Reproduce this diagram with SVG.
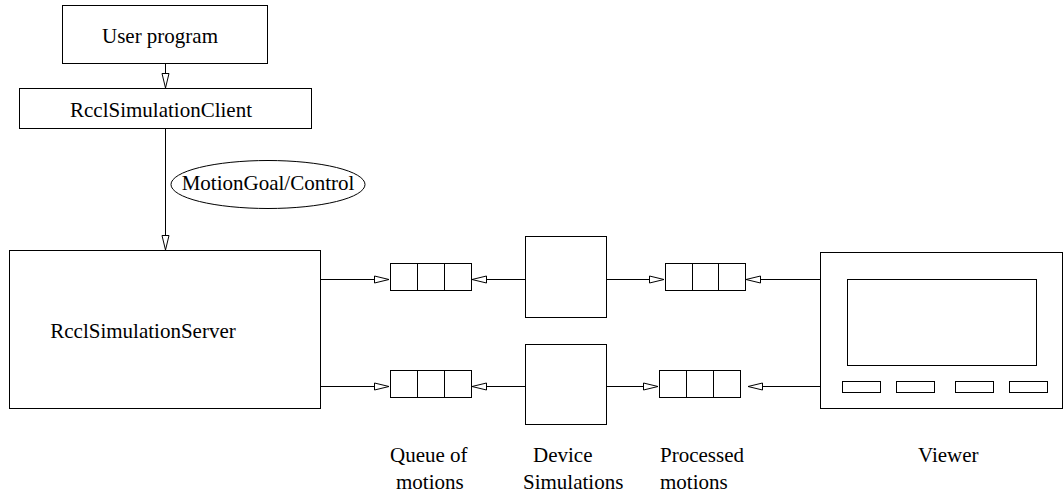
<svg xmlns="http://www.w3.org/2000/svg" width="1064" height="493" viewBox="0 0 1064 493">
<style>
.b{fill:#fff;stroke:#000;stroke-width:1}
.l{fill:none;stroke:#000;stroke-width:1}
.t{font-family:'Liberation Serif','DejaVu Serif','Times New Roman',serif;font-size:21px;fill:#000}
</style>
<defs>
<marker id="ah" markerUnits="userSpaceOnUse" markerWidth="17" markerHeight="9" refX="15" refY="4.5" orient="auto">
<path d="M0.5,1 L15,4.5 L0.5,8 Z" fill="#fff" stroke="#000" stroke-width="1"/>
</marker>
</defs>
<rect width="1064" height="493" fill="#fff"/>
<g id="user-program">
<rect class="b" x="62.5" y="5.5" width="205" height="58"/>
<text class="t" x="160" y="43" text-anchor="middle">User program</text>
</g>
<g id="client">
<rect class="b" x="19.5" y="88.5" width="292" height="40"/>
<text class="t" x="161" y="117" text-anchor="middle">RcclSimulationClient</text>
</g>
<g id="motiongoal">
<ellipse class="b" cx="268" cy="184.5" rx="97" ry="24"/>
<text class="t" x="268" y="190" text-anchor="middle">MotionGoal/Control</text>
</g>
<g id="server">
<rect class="b" x="9.5" y="250.5" width="311" height="158"/>
<text class="t" x="143" y="338" text-anchor="middle">RcclSimulationServer</text>
</g>
<g id="queue-top">
<rect class="b" x="390.5" y="263.5" width="81" height="27"/>
<path class="l" d="M417.5,263.5V290.5M444.5,263.5V290.5"/>
</g>
<g id="queue-bottom">
<rect class="b" x="390.5" y="370.5" width="81" height="27"/>
<path class="l" d="M417.5,370.5V397.5M444.5,370.5V397.5"/>
</g>
<g id="device-top">
<rect class="b" x="525.5" y="236.5" width="81" height="81"/>
</g>
<g id="device-bottom">
<rect class="b" x="525.5" y="344.5" width="81" height="80"/>
</g>
<g id="processed-top">
<rect class="b" x="665.5" y="263.5" width="80" height="27"/>
<path class="l" d="M692.5,263.5V290.5M718.5,263.5V290.5"/>
</g>
<g id="processed-bottom">
<rect class="b" x="659.5" y="370.5" width="81" height="27"/>
<path class="l" d="M686.5,370.5V397.5M713.5,370.5V397.5"/>
</g>
<g id="viewer">
<rect class="b" x="820.5" y="252.5" width="242" height="156"/>
<rect class="b" x="847.5" y="279.5" width="189" height="86"/>
<rect class="b" x="842.5" y="381.5" width="38" height="11"/>
<rect class="b" x="896.5" y="381.5" width="38" height="11"/>
<rect class="b" x="955.5" y="381.5" width="38" height="11"/>
<rect class="b" x="1009.5" y="381.5" width="38" height="11"/>
</g>
<g id="labels">
<text class="t" x="390" y="462">Queue of</text>
<text class="t" x="396" y="489">motions</text>
<text class="t" x="533" y="462">Device</text>
<text class="t" x="523" y="489">Simulations</text>
<text class="t" x="660" y="462">Processed</text>
<text class="t" x="660" y="489">motions</text>
<text class="t" x="918" y="462">Viewer</text>
</g>
<g id="connectors">
<path class="l" d="M165.5,64 V88" marker-end="url(#ah)"/>
<path class="l" d="M165.5,129 V250" marker-end="url(#ah)"/>
<path class="l" d="M321,279.5 H389" marker-end="url(#ah)"/>
<path class="l" d="M525,279.5 H472" marker-end="url(#ah)"/>
<path class="l" d="M607,279.5 H664" marker-end="url(#ah)"/>
<path class="l" d="M820,279.5 H746" marker-end="url(#ah)"/>
<path class="l" d="M321,386.5 H389" marker-end="url(#ah)"/>
<path class="l" d="M525,386.5 H472" marker-end="url(#ah)"/>
<path class="l" d="M607,386.5 H658" marker-end="url(#ah)"/>
<path class="l" d="M820,386.5 H748" marker-end="url(#ah)"/>
</g>
</svg>
